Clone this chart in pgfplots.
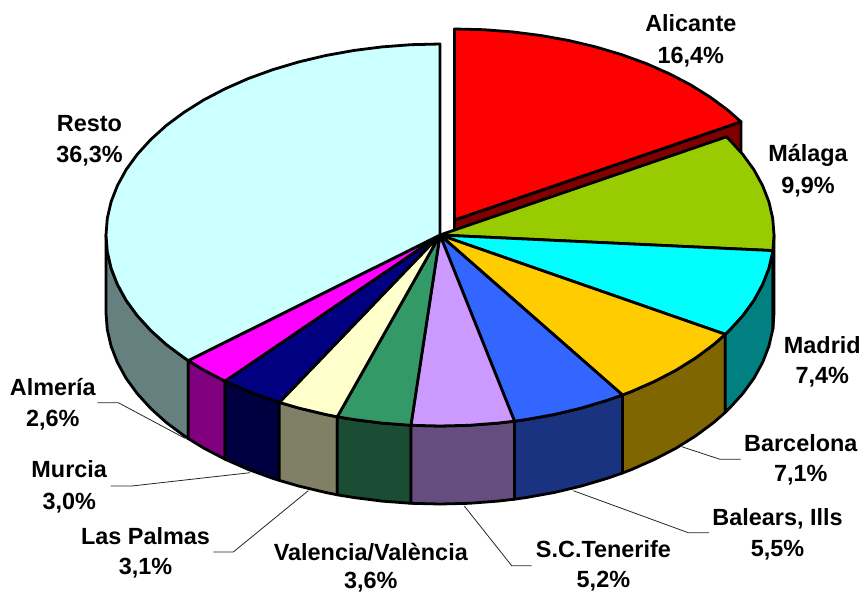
\documentclass[border=0pt]{standalone}
\usepackage{fontspec}
\setmainfont{Liberation Sans}
\usepackage{pgfplots}
\pgfplotsset{compat=1.18}

\definecolor{cResto}{HTML}{CCFFFF}\definecolor{wResto}{HTML}{668080}
\definecolor{cAli}{HTML}{FF0000}\definecolor{wAli}{HTML}{800000}
\definecolor{cMal}{HTML}{99CC00}\definecolor{wMal}{HTML}{4D6600}
\definecolor{cMad}{HTML}{00FFFF}\definecolor{wMad}{HTML}{008080}
\definecolor{cBar}{HTML}{FFCC00}\definecolor{wBar}{HTML}{806600}
\definecolor{cBal}{HTML}{3366FF}\definecolor{wBal}{HTML}{1A3380}
\definecolor{cTen}{HTML}{CC99FF}\definecolor{wTen}{HTML}{664D80}
\definecolor{cVal}{HTML}{339966}\definecolor{wVal}{HTML}{1A4D33}
\definecolor{cLas}{HTML}{FFFFCC}\definecolor{wLas}{HTML}{808066}
\definecolor{cMur}{HTML}{000080}\definecolor{wMur}{HTML}{000040}
\definecolor{cAlm}{HTML}{FF00FF}\definecolor{wAlm}{HTML}{800080}

% label: x centre, first baseline, second baseline, name, share
\newcommand{\lab}[5]{%
  \node[lbl] at (axis cs:#1,#2) {#4};
  \node[lbl] at (axis cs:#1,#3) {#5};
}

\begin{document}
\begin{tikzpicture}[
    lbl/.style={anchor=base, inner sep=0pt, text=black,
      font=\fontsize{23.5}{28}\selectfont\bfseries},
    pie/.style={draw=black, line width=2.8bp, line join=round},
    leader/.style={draw=black!85, line width=0.8bp}
  ]
\path[use as bounding box] (0,0) rectangle (863bp,592bp);
\begin{axis}[
    scale only axis, width=863bp, height=592bp,
    xmin=0, xmax=863, ymin=0, ymax=592,
    y dir=reverse, hide axis, clip=false
  ]
% walls (pixel positions, depth 78)
\addplot[pie, fill=wAli] coordinates {(454.5,220) (741,121.8) (741,199.8) (454.5,298)} -- cycle;
\addplot[pie, fill=wResto] coordinates {(188.3,360.6) (184.2,357.8) (166.4,344.6) (150.8,330.5) (137.3,315.7) (126.1,300.3) (117.4,284.4) (111.1,268.2) (107.3,251.7) (106,235) (106,313) (107.3,329.7) (111.1,346.2) (117.4,362.4) (126.1,378.3) (137.3,393.7) (150.8,408.5) (166.4,422.6) (184.2,435.8) (188.3,438.6)} -- cycle;
\addplot[pie, fill=wAlm] coordinates {(188.3,360.6) (203.8,370.1) (225,381.2) (225,459.2) (203.8,448.1) (188.3,438.6)} -- cycle;
\addplot[pie, fill=wMur] coordinates {(225,381.2) (248.4,391.5) (273,400.4) (279.3,402.4) (279.3,480.4) (273,478.4) (248.4,469.5) (225,459.2)} -- cycle;
\addplot[pie, fill=wLas] coordinates {(279.3,402.4) (298.9,408.1) (325.8,414.5) (337.3,416.8) (337.3,494.8) (325.8,492.5) (298.9,486.1) (279.3,480.4)} -- cycle;
\addplot[pie, fill=wVal] coordinates {(337.3,416.8) (353.6,419.5) (382,423.1) (410.9,425.3) (410.9,503.3) (382,501.1) (353.6,497.5) (337.3,494.8)} -- cycle;
\addplot[pie, fill=wTen] coordinates {(410.9,425.3) (440,426) (469.1,425.3) (498,423.1) (514.5,421.2) (514.5,499.2) (498,501.1) (469.1,503.3) (440,504) (410.9,503.3)} -- cycle;
\addplot[pie, fill=wBal] coordinates {(514.5,421.2) (526.4,419.5) (554.2,414.5) (581.1,408.1) (607,400.4) (622.5,395) (622.5,473) (607,478.4) (581.1,486.1) (554.2,492.5) (526.4,497.5) (514.5,499.2)} -- cycle;
\addplot[pie, fill=wBar] coordinates {(622.5,395) (631.6,391.5) (654.7,381.3) (676.2,370.1) (695.8,357.8) (713.6,344.6) (725.3,334.3) (725.3,412.3) (713.6,422.6) (695.8,435.8) (676.2,448.1) (654.7,459.3) (631.6,469.5) (622.5,473)} -- cycle;
\addplot[pie, fill=wMad] coordinates {(725.3,334.3) (729.2,330.5) (742.7,315.7) (753.9,300.3) (762.6,284.4) (768.9,268.2) (772.7,251.7) (772.9,250.6) (772.9,328.6) (772.7,329.7) (768.9,346.2) (762.6,362.4) (753.9,378.3) (742.7,393.7) (729.2,408.5) (725.3,412.3)} -- cycle;
\addplot[pie, fill=wMal] coordinates {(772.9,250.6) (774,235) (774,313) (772.9,328.6)} -- cycle;
% tops
\addplot[pie, fill=cAli] coordinates {(454.5,220) (454.5,29) (483.6,29.7) (512.5,31.9) (540.9,35.5) (568.7,40.5) (595.6,46.9) (621.5,54.6) (646.1,63.5) (669.2,73.7) (690.7,84.9) (710.3,97.2) (728.1,110.4) (741,121.8)} -- cycle;
\addplot[pie, fill=cMal] coordinates {(440,235) (726.5,136.8) (729.2,139.5) (742.7,154.3) (753.9,169.7) (762.6,185.6) (768.9,201.8) (772.7,218.3) (774,235) (772.9,250.6)} -- cycle;
\addplot[pie, fill=cMad] coordinates {(440,235) (772.9,250.6) (772.7,251.7) (768.9,268.2) (762.6,284.4) (753.9,300.3) (742.7,315.7) (729.2,330.5) (725.3,334.3)} -- cycle;
\addplot[pie, fill=cBar] coordinates {(440,235) (725.3,334.3) (713.6,344.6) (695.8,357.8) (676.2,370.1) (654.7,381.3) (631.6,391.5) (622.5,395)} -- cycle;
\addplot[pie, fill=cBal] coordinates {(440,235) (622.5,395) (607,400.4) (581.1,408.1) (554.2,414.5) (526.4,419.5) (514.5,421.2)} -- cycle;
\addplot[pie, fill=cTen] coordinates {(440,235) (514.5,421.2) (498,423.1) (469.1,425.3) (440,426) (410.9,425.3)} -- cycle;
\addplot[pie, fill=cVal] coordinates {(440,235) (410.9,425.3) (382,423.1) (353.6,419.5) (337.3,416.8)} -- cycle;
\addplot[pie, fill=cLas] coordinates {(440,235) (337.3,416.8) (325.8,414.5) (298.9,408.1) (279.3,402.4)} -- cycle;
\addplot[pie, fill=cMur] coordinates {(440,235) (279.3,402.4) (273,400.4) (248.4,391.5) (225,381.2)} -- cycle;
\addplot[pie, fill=cAlm] coordinates {(440,235) (225,381.2) (203.8,370.1) (188.3,360.6)} -- cycle;
\addplot[pie, fill=cResto] coordinates {(440,235) (188.3,360.6) (184.2,357.8) (166.4,344.6) (150.8,330.5) (137.3,315.7) (126.1,300.3) (117.4,284.4) (111.1,268.2) (107.3,251.7) (106,235) (107.3,218.3) (111.1,201.8) (117.4,185.6) (126.1,169.7) (137.3,154.3) (150.8,139.5) (166.4,125.4) (184.2,112.2) (203.8,99.9) (225.3,88.7) (248.4,78.5) (273,69.6) (298.9,61.9) (325.8,55.5) (353.6,50.5) (382,46.9) (410.9,44.7) (440,44)} -- cycle;
% leader lines
\addplot[leader] coordinates {(681.7,446.7) (720,459.3) (740.7,459.3)};
\addplot[leader] coordinates {(573.3,490.7) (688.3,532.7) (709,532.7)};
\addplot[leader] coordinates {(464.3,506) (511.7,565.7) (531.7,565.7)};
\addplot[leader] coordinates {(308.3,490.7) (233.3,552) (213.3,552)};
\addplot[leader] coordinates {(250,472.7) (131.7,486) (110.7,486)};
\addplot[leader] coordinates {(185,438.3) (118.3,402.7) (97.3,402.7)};
% labels
\lab{690.8}{31.7}{63.3}{Alicante}{16,4\%}
\lab{808}{161}{193}{Málaga}{9,9\%}
\lab{822.3}{353.3}{383.3}{Madrid}{7,4\%}
\lab{800.8}{451.7}{481.7}{Barcelona}{7,1\%}
\lab{777.5}{525}{556}{Balears, Ills}{5,5\%}
\lab{603.4}{557.7}{587.5}{S.C.Tenerife}{5,2\%}
\lab{370.8}{560}{588.3}{Valencia/València}{3,6\%}
\lab{145.5}{544}{574}{Las Palmas}{3,1\%}
\lab{69.2}{477.7}{509.3}{Murcia}{3,0\%}
\lab{52.8}{395}{426.7}{Almería}{2,6\%}
\lab{89.5}{131}{162}{Resto}{36,3\%}
\end{axis}
\end{tikzpicture}
\end{document}
